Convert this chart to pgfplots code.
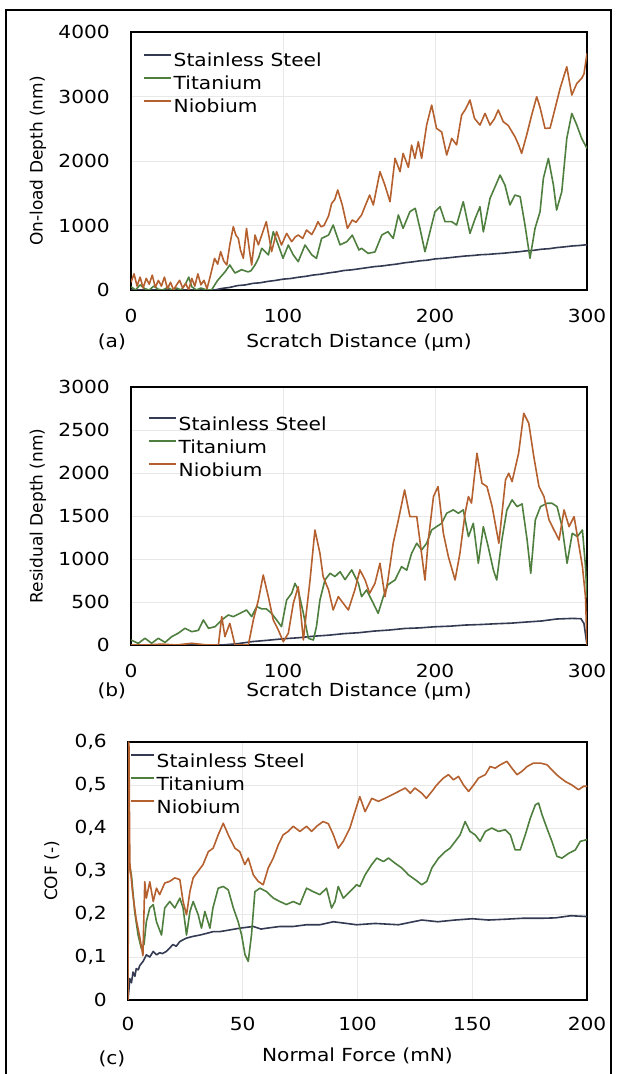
\documentclass[border=0pt]{standalone}
\usepackage{pgfplots}
\pgfplotsset{compat=1.18}
\usepackage{fontspec}
\setmainfont[FakeStretch=1.12]{DejaVu Sans}
\newfontfamily\ylabfont{DejaVu Sans}
\definecolor{steel}{HTML}{333A52}
\definecolor{ti}{HTML}{4F7F3F}
\definecolor{nb}{HTML}{B5602F}
\newcommand{\tfont}{\fontsize{18bp}{21bp}\selectfont}
\pgfplotsset{
  myax/.style={
    scale only axis, width=456bp, height=258bp, anchor=south west,
    axis line style={line width=1.6bp, black},
    major tick length=0pt,
    grid=major, grid style={black!9, line width=0.6bp},
    clip mode=individual,
    tick label style={font=\tfont},
    yticklabel style={anchor=east, inner sep=0pt, xshift=-21bp},
    xticklabel style={anchor=north, inner sep=0pt, yshift=-18.5bp},
    xlabel style={font=\tfont, anchor=base},
    ylabel style={font=\ylabfont\fontsize{17bp}{20bp}\selectfont, anchor=center},
    legend cell align=left,
    legend style={at={(axis description cs:0,1)}, anchor=north west, draw=none, fill=none,
      inner sep=0pt, font=\tfont, row sep=0pt,
      nodes={inner xsep=2bp, inner ysep=2bp, text height=15bp, text depth=4bp}},
    legend image code/.code={\draw[#1, line width=1.5bp] (0bp,6.5bp) -- (27bp,6.5bp);},
    every axis plot/.append style={line width=1.6bp, line join=round},
  }
}
\begin{document}
\begin{tikzpicture}
\useasboundingbox (0,0) rectangle (617bp,1074bp);
\draw[line width=1.5bp] (6bp,-5bp) -- (6bp,1064bp) -- (611bp,1064bp) -- (611bp,-5bp);

% ---------------- (a)
\begin{axis}[myax, at={(131bp,784bp)},
  xmin=0, xmax=300, ymin=0, ymax=4000,
  xtick={0,100,200,300}, xticklabels={0,100,200,300},
  ytick={0,1000,2000,3000,4000}, yticklabels={0,1000,2000,3000,4000},
  xlabel={Scratch Distance (µm)}, ylabel={On-load Depth (nm)},
  xlabel style={at={(axis description cs:0.5,-0.221)}},
  ylabel style={at={(axis description cs:-0.204,0.5)}},
  legend style={xshift=12bp, yshift=-17.7bp},
]
\addplot[steel] table {
0 0
55 0
60 25
65 40
70 68
75 78
80 102
85 112
90 133
95 148
100 168
105 178
110 197
115 212
120 232
125 245
130 265
135 280
140 302
145 312
150 328
155 345
160 362
165 372
170 388
175 402
180 422
185 435
190 452
195 462
200 482
205 490
210 502
215 515
220 527
225 535
230 547
235 552
240 562
245 570
250 582
255 592
260 607
265 615
270 632
275 640
280 657
285 668
290 682
295 690
300 702
};
\addplot[ti] table {
0 50
3 0
6 80
9 20
12 0
15 60
18 10
21 0
24 40
27 0
30 30
33 0
36 100
38 200
40 50
43 0
46 30
50 0
53 0
57 150
61.8 279
65 388
68.4 263
72.8 315
77 280
79 300
81.6 388
84 500
86 646
90.4 543
93.6 904
96.9 697
100 491
103.5 697
106.8 543
110 440
114.5 697
119 543
122 491
125.4 800
130 852
133 1007
137.5 700
142 749
145.6 850
150 620
151.7 646
156 568
160.5 590
165 852
169 904
172.5 800
175.9 1163
179 955
183.5 1214
187 1266
190.1 955
193.4 594
196.7 904
200 1214
203.3 1292
206.6 1059
211 1059
214.2 1007
218.6 1369
223 878
226.3 1100
229.6 1292
231.8 900
236.2 1421
239.5 1600
242.8 1782
246 1628
249.3 1318
252.6 1472
256 1447
259.2 1007
262.5 491
265.8 955
269.1 1214
271.3 1731
274.6 2041
277.9 1628
280 1240
283.4 1524
286.7 2350
290 2738
293.3 2557
296.5 2350
300 2195
};
\addplot[nb] table {
0 120
2 250
4 60
6 200
8 30
10 180
12 90
14 230
16 40
18 150
20 60
22 200
24 20
26 120
28 0
30 80
32 150
34 30
36 100
38 0
40 180
42 60
44 250
46 80
48 150
50 20
52 200
55 491
57 400
59 594
61 450
63 388
65 700
67.3 981
69 850
70.6 800
72 620
73.9 491
76 955
78 600
79.4 388
81.6 852
83.8 700
86 850
89 1059
91 800
92.5 594
95.8 904
99 697
102.4 878
105.7 749
108 820
110 852
113 800
115.5 930
118.9 860
121 950
123 1059
125 980
127 1000
130 1150
132 1343
134 1400
136 1550
139 1318
142.4 955
145.6 1085
148 1050
151.7 1163
154 1300
157 1472
159.4 1318
163.8 1834
167 1628
170.4 1369
173.7 2041
177 1834
179 2118
182.5 1900
184.6 2247
186.8 2041
189 2299
191.2 2041
194.5 2557
197.8 2867
201 2505
204.4 2450
207.7 2092
211 2350
214.2 2250
217.5 2712
220 2800
223 2945
226 2660
229.6 2557
232.9 2738
236.2 2557
239 2650
241.6 2790
244.9 2609
248.2 2550
252.6 2376
255 2250
257 2118
260.3 2402
263.6 2712
266.9 2996
269 2841
272.4 2505
275.7 2510
279 2815
282.3 3126
286.7 3461
290 3022
293.3 3203
296.5 3281
298 3350
300 3668
};
\legend{Stainless Steel, Titanium, Niobium}
\node[font=\tfont, anchor=base] at (axis description cs:-0.042,-0.221) {(a)};
\end{axis}

% ---------------- (b)
\begin{axis}[myax, at={(131bp,429bp)},
  xmin=0, xmax=300, ymin=0, ymax=3000,
  xtick={0,100,200,300}, xticklabels={0,100,200,300},
  ytick={0,500,1000,1500,2000,2500,3000}, yticklabels={0,500,1000,1500,2000,2500,3000},
  xlabel={Scratch Distance (µm)}, ylabel={Residual Depth (nm)},
  xlabel style={at={(axis description cs:0.5,-0.2)}},
  ylabel style={at={(axis description cs:-0.204,0.5)}},
  legend style={xshift=17bp, yshift=-26bp},
]
\addplot[steel] table {
0 0
60 0
70 15
80 40
90 55
100 72
110 84
120 102
130 114
140 132
150 143
160 162
170 174
180 192
190 199
200 212
210 219
220 232
230 238
240 247
250 254
260 267
270 279
280 302
290 309
296 306
298 250
300 0
};
\addplot[ti] table {
0 58
4.8 19
9.2 78
13.6 20
18 78
22.4 30
26.8 97
31 136
35.5 194
40 155
44.3 170
47.6 291
51 194
55.3 213
59.7 291
64 349
67.3 330
71.7 368
76 407
79.4 330
82.7 446
86 420
89 420
92.5 368
95.8 291
99 213
102.4 523
105.7 601
107.9 717
110 640
113.4 368
116.7 78
120 58
122 213
124.3 523
127.6 756
131 834
134.2 795
137.5 853
140.8 760
145.2 873
149.6 717
151.7 562
155 640
159.4 485
162.6 368
166 562
169 700
173.7 756
178 911
181.4 870
184.6 1066
188 1183
191.2 1105
194.5 1183
197.8 1337
201 1376
204.4 1415
207.7 1532
212 1571
215.4 1532
218.6 1571
222 1260
225.2 1415
228.5 950
231.8 1376
235 1144
238.4 873
240.6 756
244 1221
247.3 1571
250.7 1687
254 1609
257.3 1640
260.6 1221
263 834
266 1454
269.4 1609
273.7 1648
277 1648
280.3 1609
283.6 1376
286.9 950
290.3 1299
293.6 1260
297 1337
299 911
300 550
};
\addplot[nb] table {
0 0
10 0
20 10
30 0
40 20
50 0
57.5 0
59.7 330
61.8 97
65 252
68.4 0
71.7 0
77.2 0
80.5 291
83.8 523
87 814
90.4 558
93.6 291
96.9 174
100.2 39
103.5 136
106.8 485
110 678
113.4 58
115.5 400
117.8 756
121 1337
124.3 1066
126.4 795
130 640
133 407
136.4 562
139.6 485
143 407
147.4 650
150.6 873
154 756
157 601
160.5 717
163.8 950
167.1 562
169 756
172.5 1183
175.9 1454
180 1803
183.5 1493
188 1493
190 1221
193.4 756
195.6 1221
199 1726
202 1842
205.5 1299
208.8 1027
213.2 756
216.4 1066
219.8 1532
222 1726
224 1650
227.6 2229
230.9 1881
234.2 1842
237.6 1609
242 1183
246.4 1920
248.5 1997
250.7 1900
255 2229
258.4 2694
261.7 2578
265 2190
268.4 1842
271.7 1726
275 1454
278.3 1337
281.6 1221
284.9 1571
288.2 1376
291.5 1493
293.7 1260
297 911
299 562
300 0
};
\legend{Stainless Steel, Titanium, Niobium}
\node[font=\tfont, anchor=base] at (axis description cs:-0.042,-0.2) {(b)};
\end{axis}

% ---------------- (c)
\begin{axis}[myax, at={(128bp,74bp)}, width=459bp,
  xmin=0, xmax=200, ymin=0, ymax=0.6,
  xtick={0,50,100,150,200}, xticklabels={0,50,100,150,200},
  ytick={0,0.1,0.2,0.3,0.4,0.5,0.6}, yticklabels={0,{0,1},{0,2},{0,3},{0,4},{0,5},{0,6}},
  xticklabel style={yshift=1.5bp},
  xlabel={Normal Force (mN)}, ylabel={COF (-)},
  xlabel style={at={(axis description cs:0.5,-0.238)}},
  ylabel style={at={(axis description cs:-0.166,0.5)}},
  legend style={xshift=2bp, yshift=-8bp},
  legend image code/.code={\draw[#1, line width=1.5bp] (0bp,6.5bp) -- (23bp,6.5bp);},
]
\addplot[steel] table {
0 0
0.5 0.03
0.75 0.05
1.5 0.04
2.2 0.065
3 0.055
3.6 0.073
4.5 0.07
5.1 0.08
6.6 0.09
8 0.105
9.5 0.1
11 0.113
12.5 0.105
13.8 0.11
15 0.108
16.7 0.113
18 0.12
19.6 0.129
21 0.125
22.6 0.136
24 0.14
25.5 0.144
28.4 0.148
31.3 0.151
34.3 0.155
37.1 0.159
40 0.159
44.4 0.163
48.7 0.167
54.6 0.171
58 0.165
60.4 0.167
66.2 0.171
72 0.171
77.8 0.175
83.6 0.175
89.5 0.182
95.3 0.178
99.6 0.175
107.7 0.178
117.9 0.175
128 0.186
135 0.182
142.6 0.186
150 0.189
157.1 0.186
165 0.188
171.7 0.19
180 0.19
186.2 0.191
193 0.196
200 0.194
};
\addplot[ti] table {
0 0.33
1.5 0.29
2.9 0.206
4.4 0.151
5.8 0.12
7 0.13
8 0.182
9.5 0.214
11 0.222
12.4 0.182
14.6 0.151
16 0.214
18.2 0.229
20.4 0.214
22.6 0.237
24 0.214
25.5 0.151
27 0.206
28.4 0.229
30.6 0.198
32 0.167
33.5 0.206
35.7 0.167
37 0.214
39.3 0.26
41.5 0.264
43.7 0.256
45.9 0.214
48 0.182
49.5 0.151
51 0.105
52.4 0.09
53.8 0.151
55.3 0.252
57.5 0.26
60.4 0.252
63.3 0.237
66.2 0.229
69 0.222
72 0.229
74.9 0.222
77.8 0.26
80.7 0.252
83.6 0.245
86.5 0.26
88.7 0.214
90.2 0.229
91.6 0.264
93.8 0.237
96.7 0.252
99.6 0.268
101 0.264
103.3 0.291
106.2 0.315
108.4 0.33
111.3 0.322
113.5 0.33
116.4 0.318
119.3 0.307
122.2 0.291
125.1 0.28
128 0.268
130.2 0.276
132.4 0.307
135.3 0.33
138.2 0.345
140.3 0.353
142.6 0.369
144.7 0.384
146.9 0.415
149 0.392
151.3 0.384
153.4 0.369
155.7 0.392
158.5 0.4
161.5 0.392
164.4 0.396
166.6 0.384
168.7 0.349
170.9 0.349
173.1 0.384
175.3 0.423
177.5 0.454
178.9 0.458
180.4 0.431
182.5 0.4
184.7 0.369
186.9 0.334
189.1 0.33
192 0.341
194.9 0.349
197.1 0.369
200 0.373
};
\addplot[nb] table {
0 0
0.4 0.6
0.8 0.32
2 0.25
3.5 0.19
5 0.15
6.5 0.103
7.3 0.275
8 0.237
9.5 0.275
11 0.229
12.4 0.26
13.8 0.245
16 0.272
18.2 0.276
20.4 0.284
22.6 0.28
24 0.229
25.5 0.198
27 0.253
28.4 0.284
30.6 0.3
32.7 0.315
35 0.345
37.1 0.353
39.3 0.384
41.5 0.411
43.7 0.384
46.6 0.353
48.7 0.345
50.9 0.315
52.4 0.33
54.6 0.291
56.7 0.276
58.9 0.268
61.1 0.307
63.3 0.33
65.5 0.361
67.6 0.384
69.8 0.392
72 0.404
74.9 0.392
77.8 0.404
80 0.392
82.2 0.404
85 0.415
87.3 0.41
89.5 0.384
91.6 0.353
93.8 0.369
96.7 0.4
99.6 0.45
101 0.473
103.3 0.438
106.2 0.469
109.1 0.462
112 0.469
115 0.477
117.9 0.485
120.8 0.493
123 0.481
125 0.493
128 0.481
130 0.469
132.4 0.485
134.5 0.5
137.4 0.516
139.6 0.524
141.8 0.512
144 0.52
146.2 0.5
148.4 0.485
150.6 0.5
152.7 0.516
155.7 0.524
157.8 0.543
160 0.539
162.2 0.547
165.1 0.555
167.3 0.539
169.5 0.524
171.7 0.532
173.9 0.543
176.7 0.551
179.7 0.551
182.6 0.547
184.7 0.535
187.6 0.52
190.6 0.508
193.4 0.5
196.3 0.489
198.5 0.497
200 0.497
};
\legend{Stainless Steel, Titanium, Niobium}
\node[font=\tfont, anchor=base] at (axis description cs:-0.035,-0.25) {(c)};
\end{axis}
\end{tikzpicture}
\end{document}
